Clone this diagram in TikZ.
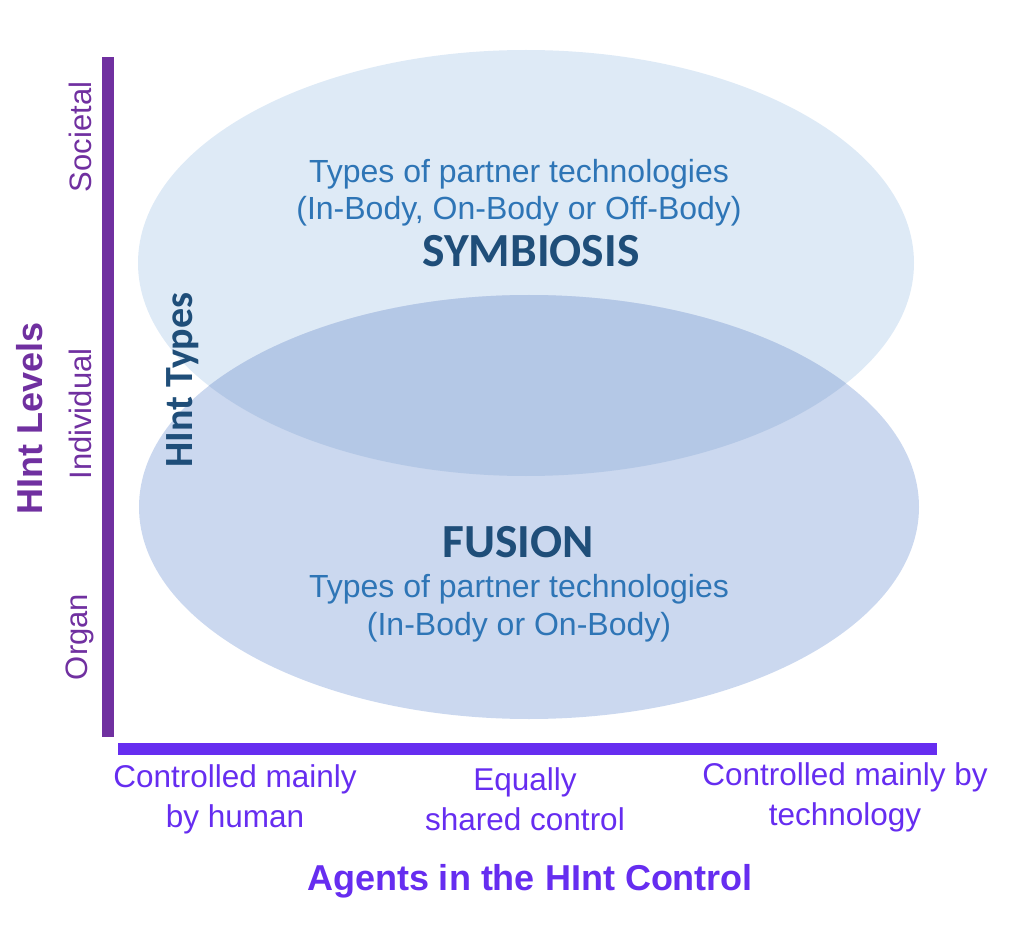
\documentclass[tikz,border=0pt]{standalone}
\usepackage{fontspec}
\setmainfont{Liberation Sans}
\newfontfamily\calib{Carlito}
\definecolor{lvl}{RGB}{112,48,160}
\definecolor{ctl}{RGB}{102,45,240}
\definecolor{txtb}{RGB}{46,117,182}
\definecolor{dkb}{RGB}{31,78,121}
\definecolor{topfill}{RGB}{222,234,246}
\definecolor{botfill}{RGB}{203,216,239}
\definecolor{ovfill}{RGB}{180,200,230}
\tikzset{
  lvltxt/.style={text=lvl, font=\fontsize{31}{36}\selectfont, rotate=90},
  ctltxt/.style={text=ctl, font=\fontsize{31.5}{40}\selectfont, align=center},
  desc/.style={text=txtb, font=\fontsize{32}{37.5}\selectfont, align=center},
  typetxt/.style={text=dkb, font=\calib\bfseries\fontsize{47.5}{54}\selectfont},
}
\begin{document}
\begin{tikzpicture}[x=1pt,y=-1pt]
\useasboundingbox (0,0) rectangle (1029,928);
% ellipses
\fill[topfill] (526,263) ellipse [x radius=388, y radius=213];
\fill[botfill] (529,507) ellipse [x radius=390, y radius=212];
\begin{scope}
  \clip (526,263) ellipse [x radius=388, y radius=213];
  \fill[ovfill] (529,507) ellipse [x radius=390, y radius=212];
\end{scope}
% axes
\fill[lvl] (102,57) rectangle (114,737);
\fill[ctl] (118,743) rectangle (937,755);
% level labels
\node[lvltxt] (soc) at (80,137) {Societal};
\node[lvltxt] (ind) at (80,414) {Individual};
\node[lvltxt] (org) at (80,637) {Organ};
\node[text=lvl, font=\bfseries\fontsize{36}{40}\selectfont, rotate=90] (hl) at (30,418) {HInt Levels};
\node[text=dkb, font=\calib\bfseries\fontsize{40}{44}\selectfont, rotate=90] (ht) at (183,380) {HInt Types};
% control labels
\node[ctltxt] (c1) at (235,799) {Controlled mainly\\by human};
\node[ctltxt] (c2) at (525,799) {Equally\\shared control};
\node[ctltxt] (c3) at (845,797) {Controlled mainly by\\technology};
\node[text=ctl, font=\bfseries\fontsize{36}{40}\selectfont] (ag) at (530,881) {Agents in the HInt Control};
% ellipse texts
\node[desc] (sd) at (519,192.5) {Types of partner technologies\\(In-Body, On-Body or Off-Body)};
\node[typetxt] (sym) at (531,251) {SYMBIOSIS};
\node[typetxt] (fus) at (518,542) {FUSION};
\node[desc] (fd) at (519,608) {Types of partner technologies\\(In-Body or On-Body)};
\end{tikzpicture}
\end{document}
